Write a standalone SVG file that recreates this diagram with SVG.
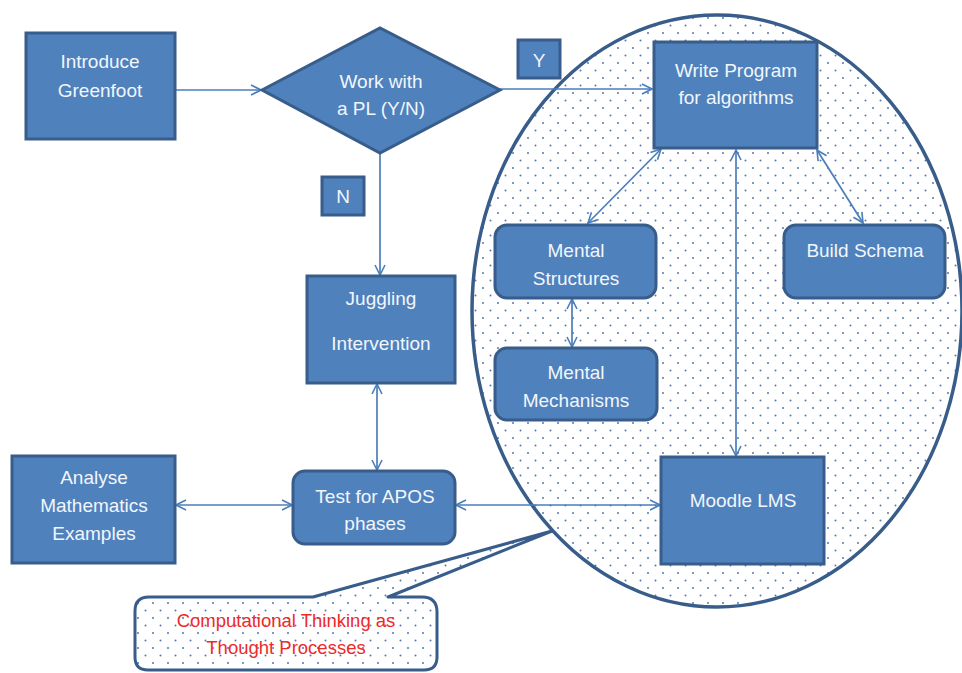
<svg xmlns="http://www.w3.org/2000/svg" width="962" height="673" viewBox="0 0 962 673">
  <defs>
    <pattern id="dots" patternUnits="userSpaceOnUse" width="15" height="15">
      <rect width="15" height="15" fill="#ffffff"/>
      <circle cx="3" cy="3" r="1" fill="#5278b2"/>
      <circle cx="10.5" cy="10.5" r="1" fill="#5278b2"/>
    </pattern>
    <marker id="arr" viewBox="0 0 12 12" refX="11" refY="6" markerWidth="12" markerHeight="12" markerUnits="userSpaceOnUse" orient="auto-start-reverse">
      <path d="M1,1 L11,6 L1,11" fill="none" stroke="#4a7ebb" stroke-width="1.6"/>
    </marker>
    <style>
      .box { fill: #4f81bd; stroke: #385d8a; stroke-width: 3; }
      .lbl { fill: #f2f6fb; font-family: "Liberation Sans", Arial, sans-serif; font-size: 19px; text-anchor: middle; }
      .con { fill: none; stroke: #4a7ebb; stroke-width: 1.7; }
      .note { fill: #ee2a2a; font-family: "Liberation Sans", Arial, sans-serif; font-size: 18.5px; text-anchor: middle; }
    </style>
  </defs>

  <!-- dotted region grouping the programming activities -->
  <g id="region">
    <ellipse cx="717" cy="311" rx="245" ry="296" fill="url(#dots)" stroke="#385d8a" stroke-width="3.5"/>
  </g>

  <!-- connectors -->
  <g id="connectors">
    <line class="con" x1="175" y1="90" x2="261" y2="90" marker-end="url(#arr)"/>
    <line class="con" x1="500" y1="89" x2="652" y2="89" marker-end="url(#arr)"/>
    <line class="con" x1="380" y1="153" x2="380" y2="275" marker-end="url(#arr)"/>
    <line class="con" x1="661" y1="149" x2="588" y2="223" marker-start="url(#arr)" marker-end="url(#arr)"/>
    <line class="con" x1="817" y1="150" x2="863" y2="223" marker-start="url(#arr)" marker-end="url(#arr)"/>
    <line class="con" x1="736" y1="150" x2="736" y2="456" marker-start="url(#arr)" marker-end="url(#arr)"/>
    <line class="con" x1="572" y1="299" x2="572" y2="347" marker-start="url(#arr)" marker-end="url(#arr)"/>
    <line class="con" x1="377" y1="384" x2="377" y2="470" marker-start="url(#arr)" marker-end="url(#arr)"/>
    <line class="con" x1="176" y1="505" x2="292" y2="505" marker-start="url(#arr)" marker-end="url(#arr)"/>
    <line class="con" x1="456" y1="505" x2="660" y2="505" marker-start="url(#arr)" marker-end="url(#arr)"/>
  </g>

  <g id="introduce">
    <rect class="box" x="26" y="33" width="149" height="106"/>
    <text class="lbl" x="100" y="68">Introduce</text>
    <text class="lbl" x="100" y="97">Greenfoot</text>
  </g>

  <g id="decision">
    <polygon class="box" points="262,90 380,28 500,90 380,153"/>
    <text class="lbl" x="381" y="88">Work with</text>
    <text class="lbl" x="381" y="115">a PL (Y/N)</text>
  </g>

  <g id="label-y">
    <rect class="box" x="518" y="40" width="42" height="38"/>
    <text class="lbl" x="539" y="67">Y</text>
  </g>

  <g id="label-n">
    <rect class="box" x="322" y="177" width="42" height="38"/>
    <text class="lbl" x="343" y="203">N</text>
  </g>

  <g id="write-program">
    <rect class="box" x="654" y="42" width="163" height="106"/>
    <text class="lbl" x="736" y="77">Write Program</text>
    <text class="lbl" x="736" y="104">for algorithms</text>
  </g>

  <g id="mental-structures">
    <rect class="box" x="495" y="225" width="161" height="73" rx="12"/>
    <text class="lbl" x="576" y="257">Mental</text>
    <text class="lbl" x="576" y="285">Structures</text>
  </g>

  <g id="build-schema">
    <rect class="box" x="784" y="225" width="161" height="73" rx="12"/>
    <text class="lbl" x="865" y="257">Build Schema</text>
  </g>

  <g id="mental-mechanisms">
    <rect class="box" x="495" y="348" width="162" height="72" rx="12"/>
    <text class="lbl" x="576" y="379">Mental</text>
    <text class="lbl" x="576" y="407">Mechanisms</text>
  </g>

  <g id="juggling">
    <rect class="box" x="307" y="276" width="148" height="107"/>
    <text class="lbl" x="381" y="305">Juggling</text>
    <text class="lbl" x="381" y="350">Intervention</text>
  </g>

  <g id="test-apos">
    <rect class="box" x="293" y="471" width="162" height="73" rx="12"/>
    <text class="lbl" x="375" y="503">Test for APOS</text>
    <text class="lbl" x="375" y="530">phases</text>
  </g>

  <g id="analyse">
    <rect class="box" x="12" y="456" width="163" height="107"/>
    <text class="lbl" x="94" y="484">Analyse</text>
    <text class="lbl" x="94" y="512">Mathematics</text>
    <text class="lbl" x="94" y="540">Examples</text>
  </g>

  <g id="moodle">
    <rect class="box" x="661" y="457" width="163" height="107"/>
    <text class="lbl" x="743" y="507">Moodle LMS</text>
  </g>

  <!-- callout pointing into the region -->
  <g id="callout">
    <path d="M149,597 H313 L552,531 L388,597 H422 Q437,597 437,612 V657 Q437,670 424,670 H148 Q135,670 135,657 V611 Q135,597 149,597 Z" fill="url(#dots)" stroke="#385d8a" stroke-width="3" stroke-linejoin="round"/>
    <text class="note" x="286" y="627">Computational Thinking as</text>
    <text class="note" x="286" y="654">Thought Processes</text>
  </g>
</svg>
